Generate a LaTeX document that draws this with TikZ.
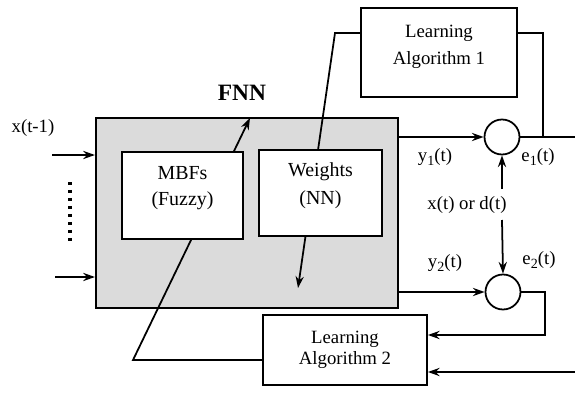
\documentclass[tikz,border=0pt]{standalone}
\usepackage{fontspec}
\setmainfont{Liberation Serif}
\usetikzlibrary{arrows.meta}
\newcommand\mysubs[1]{\raisebox{-0.45ex}{\fontsize{12}{12}\selectfont #1}}
\begin{document}
\begin{tikzpicture}[x=0.03cm,y=-0.03cm,
  every node/.style={font=\fontsize{16}{19}\selectfont},
  box/.style={draw,line width=1.5pt,fill=white,align=center,inner sep=0pt},
  sumnode/.style={draw,line width=1.5pt,circle,minimum size=1.05cm,inner sep=0pt},
  conn/.style={line width=1.5pt},
  arr/.style={conn,-{Stealth[length=10pt,width=7pt]}},
  lbl/.style={inner sep=0pt,align=center}]
\useasboundingbox (0,0) rectangle (575,393);
% FNN block
\node[draw,line width=1.8pt,fill=gray!28,minimum width=9.06cm,minimum height=5.7cm,inner sep=0pt] (fnn) at (247,213) {};
\node[lbl,font=\fontsize{20}{22}\selectfont\bfseries] (fnnlbl) at (242,93) {FNN};
% learning boxes
\node[box,minimum width=4.68cm,minimum height=2.67cm] (la1) at (439,52.5) {};
\node[lbl,font=\fontsize{16}{23}\selectfont] (la1txt) at (439,47) {Learning\\Algorithm 1};
\node[box,minimum width=4.92cm,minimum height=2.1cm,font=\fontsize{16}{17.5}\selectfont] (la2) at (345,350) {Learning\\Algorithm 2};
% summing junctions
\node[sumnode] (c1) at (502,137) {};
\node[sumnode] (c2) at (503,292) {};
% coordinates
\coordinate (in1) at (52,155);
\coordinate (in2) at (55,277);
\coordinate (dtop) at (70,182);
\coordinate (dbot) at (70,242);
\coordinate (tip1) at (250,118);
\coordinate (bend1) at (133,360);
\coordinate (bend2) at (335,33);
\coordinate (tip2) at (298,288);
\coordinate (e1end) at (575,137);
\coordinate (e1br) at (543,137);
\coordinate (e1up) at (543,33);
\coordinate (xin1) at (502,189);
\coordinate (xin2) at (502,220);
\coordinate (e2r) at (545,292);
\coordinate (e2d) at (545,335);
\coordinate (fbin) at (575,372);
% adaptation arrows (behind the inner boxes)
\draw[arr] (la2.west |- bend1) -- (bend1) -- (tip1);
\draw[arr] (la1.west |- bend2) -- (bend2) -- (tip2);
% inner boxes
\node[box,minimum width=3.63cm,minimum height=2.61cm,font=\fontsize{17}{22}\selectfont] (mbf) at (182.5,195.5) {MBFs\\(Fuzzy)\\[-6pt]};
\node[box,minimum width=3.69cm,minimum height=2.58cm,font=\fontsize{17}{24}\selectfont] (wts) at (320.5,193) {Weights\\(NN)\\[-8pt]};
% inputs
\draw[arr] (in1) -- (in1 -| fnn.west);
\draw[arr] (in2) -- (in2 -| fnn.west);
\draw[line width=2.6pt,dash pattern=on 2.6pt off 4.2pt] (dtop) -- (dbot);
\node[lbl] (xlbl) at (33,128) {x(t-1)};
% outputs
\draw[arr] (fnn.east |- c1) -- (c1.west);
\draw[arr] (fnn.east |- c2) -- (c2.west);
\draw[conn] (c1.east) -- (e1end);
\draw[conn] (e1br) -- (e1up) -- (la1.east |- e1up);
\draw[arr] (xin1) -- (c1.south);
\draw[arr] (xin2) -- (c2.north);
\draw[arr] (c2.east) -- (e2r) -- (e2d) -- (la2.east |- e2d);
\draw[arr] (fbin) -- (la2.east |- fbin);
% labels
\node[lbl] (y1) at (435,157) {y\mysubs{1}(t)};
\node[lbl] (e1) at (538,157) {e\mysubs{1}(t)};
\node[lbl] (y2) at (445,263) {y\mysubs{2}(t)};
\node[lbl] (e2) at (539,260) {e\mysubs{2}(t)};
\node[lbl] (xd) at (467,205) {x(t) or d(t)};
\end{tikzpicture}
\end{document}
